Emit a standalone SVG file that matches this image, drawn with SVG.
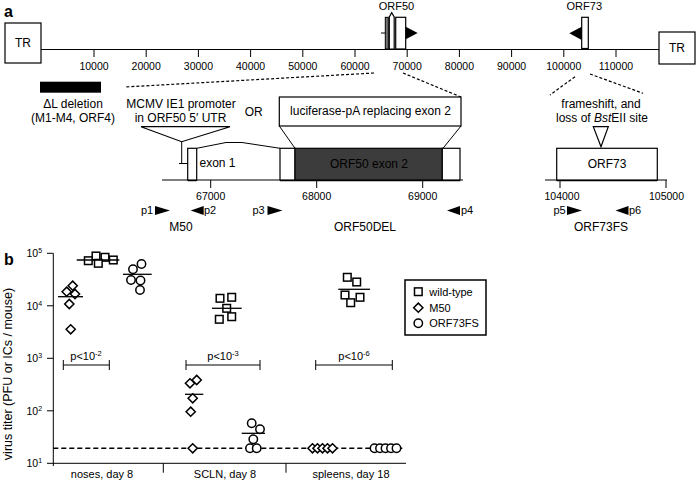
<svg xmlns="http://www.w3.org/2000/svg" width="696" height="482" viewBox="0 0 696 482">
<style>
text{font-family:"Liberation Sans",Arial,sans-serif;fill:#000}
.t12{font-size:12px}
.t11{font-size:11px}
.t10{font-size:10.5px}
.mid{text-anchor:middle}
.ln{stroke:#000;stroke-width:1;fill:none}
.box{stroke:#000;stroke-width:1.2;fill:#fff}
.dash{stroke:#000;stroke-width:1.2;fill:none;stroke-dasharray:3,2}
.thick{stroke:#000;stroke-width:2.5}
.pt{stroke:#000;stroke-width:1.5;fill:#fff}
.med{stroke:#000;stroke-width:1.3}
.bold{font-weight:bold;font-size:16px}
</style>
<defs>
<rect id="sq" x="-3.8" y="-3.8" width="7.6" height="7.6" class="pt"/>
<polygon id="dm" points="0,-4.6 4.6,0 0,4.6 -4.6,0" class="pt"/>
<circle id="ci" r="4.2" class="pt"/>
<polygon id="pr" points="0,0 15,4.5 0,9" fill="#000"/>
<polygon id="pl" points="13,0 0,4.5 13,9" fill="#000"/>
</defs>
<rect width="696" height="482" fill="#fff"/>

<!-- panel a -->
<text x="4" y="17" class="bold">a</text>

<g id="genome">
<line x1="41" y1="49.5" x2="659" y2="49.5" class="ln"/>
<g class="ln">
<line x1="94" y1="49.5" x2="94" y2="57"/>
<line x1="146.2" y1="49.5" x2="146.2" y2="57"/>
<line x1="198.4" y1="49.5" x2="198.4" y2="57"/>
<line x1="250.6" y1="49.5" x2="250.6" y2="57"/>
<line x1="302.8" y1="49.5" x2="302.8" y2="57"/>
<line x1="355" y1="49.5" x2="355" y2="57"/>
<line x1="407.2" y1="49.5" x2="407.2" y2="57"/>
<line x1="459.4" y1="49.5" x2="459.4" y2="57"/>
<line x1="511.6" y1="49.5" x2="511.6" y2="57"/>
<line x1="563.8" y1="49.5" x2="563.8" y2="57"/>
<line x1="616" y1="49.5" x2="616" y2="57"/>
</g>
<g class="t10 mid">
<text x="94" y="70">10000</text>
<text x="146.2" y="70">20000</text>
<text x="198.4" y="70">30000</text>
<text x="250.6" y="70">40000</text>
<text x="302.8" y="70">50000</text>
<text x="355" y="70">60000</text>
<text x="407.2" y="70">70000</text>
<text x="459.4" y="70">80000</text>
<text x="511.6" y="70">90000</text>
<text x="563.8" y="70">100000</text>
<text x="616" y="70">110000</text>
</g>
</g>

<g id="tr-left">
<rect x="5" y="23" width="36" height="40" class="box"/>
<text x="23" y="47" class="t12 mid">TR</text>
</g>
<g id="tr-right">
<rect x="659" y="32" width="36" height="32" class="box"/>
<text x="677" y="52" class="t12 mid">TR</text>
</g>

<g id="orf50-top">
<text x="396.5" y="10" class="t11 mid">ORF50</text>
<line x1="381" y1="33" x2="385.3" y2="33" class="ln"/>
<rect x="385.3" y="17.3" width="3" height="31.7" fill="#777" stroke="#000" stroke-width="1"/>
<polygon points="389.3,49 389.3,17 391.7,12.7 394.2,17 394.2,49" class="box"/>
<rect x="395.7" y="17.3" width="10" height="31.7" class="box"/>
<polygon points="405.7,26.7 417.7,33 405.7,39.3" fill="#000"/>
</g>

<g id="orf73-top">
<text x="584.3" y="9.5" class="t11 mid">ORF73</text>
<rect x="581.7" y="17.3" width="6.6" height="31.2" class="box"/>
<polygon points="581.7,26.7 569.3,33.3 581.7,40" fill="#000"/>
</g>

<g id="deltaL">
<rect x="40" y="81.7" width="61" height="11" fill="#000"/>
<text x="73" y="108" class="t12 mid">ΔL deletion</text>
<text x="73" y="121.7" class="t12 mid">(M1-M4, ORF4)</text>
</g>

<g id="connectors">
<line x1="374" y1="73" x2="125" y2="87" class="dash"/>
<line x1="403" y1="73" x2="461" y2="97" class="dash"/>
<line x1="575" y1="76.7" x2="550" y2="95" class="dash"/>
<line x1="590" y1="74" x2="643" y2="93.3" class="dash"/>
</g>

<g id="m50-insert">
<text x="181" y="108" class="t12 mid">MCMV IE1 promoter</text>
<text x="180.5" y="121.7" class="t12 mid">in ORF50 5′ UTR</text>
<polygon points="141,126.7 230,126.7 181.7,141.7" fill="none" stroke="#000" stroke-width="1.2"/>
<line x1="181.7" y1="141.7" x2="181.7" y2="163.5" class="ln"/>
<line x1="179" y1="163.5" x2="187.7" y2="163.5" class="ln"/>
</g>

<text x="253.7" y="116" class="t12 mid">OR</text>

<g id="luc-insert">
<rect x="279.3" y="97" width="181.7" height="29" class="box"/>
<text x="370.5" y="115" class="t12 mid">luciferase-pA replacing exon 2</text>
<line x1="279.3" y1="126" x2="295" y2="148.3" class="ln"/>
<line x1="461" y1="126" x2="443" y2="148.3" class="ln"/>
</g>

<g id="orf50-detail">
<line x1="162" y1="180" x2="463" y2="180" class="ln"/>
<line x1="187.7" y1="180" x2="196.7" y2="180" class="thick"/>
<line x1="280" y1="180" x2="460" y2="180" class="thick"/>
<rect x="187.7" y="148.3" width="9" height="31.7" class="box"/>
<text x="199.5" y="167" class="t12">exon 1</text>
<polyline points="196.7,148.3 226,142.5 242,142.5 280,148.3" class="ln"/>
<rect x="280" y="148.3" width="15" height="31.7" class="box"/>
<rect x="295" y="148.3" width="147.3" height="31.7" fill="#3c3c3c" stroke="#000" stroke-width="1.2"/>
<rect x="442.3" y="148.3" width="17.7" height="31.7" class="box"/>
<text x="369" y="168" class="t12 mid" fill="#111">ORF50 exon 2</text>
<line x1="210.7" y1="180" x2="210.7" y2="188" class="ln"/>
<line x1="316.7" y1="180" x2="316.7" y2="188" class="ln"/>
<line x1="422.7" y1="180" x2="422.7" y2="188" class="ln"/>
<g class="t10 mid">
<text x="210.7" y="200">67000</text>
<text x="316.7" y="200">68000</text>
<text x="422.7" y="200">69000</text>
</g>
<text x="141" y="214" class="t11">p1</text><use href="#pr" x="155" y="206"/>
<use href="#pl" x="190.7" y="206"/><text x="204" y="214" class="t11">p2</text>
<text x="252.5" y="214" class="t11">p3</text><use href="#pr" x="267.5" y="206"/>
<use href="#pl" x="447" y="206"/><text x="461" y="214" class="t11">p4</text>
<text x="181" y="231" class="t12 mid">M50</text>
<text x="365" y="231" class="t12 mid">ORF50DEL</text>
</g>

<g id="orf73-detail">
<text x="601" y="107.5" class="t12 mid">frameshift, and</text>
<text x="602" y="121.7" class="t12 mid">loss of <tspan font-style="italic">Bst</tspan>EII site</text>
<polygon points="593.3,126.7 608.3,126.7 601,146.7" fill="#fff" stroke="#000" stroke-width="1.2"/>
<line x1="545" y1="180" x2="667" y2="180" class="ln"/>
<line x1="556.7" y1="180" x2="657.3" y2="180" class="thick"/>
<rect x="556.7" y="148.3" width="100.6" height="31.7" class="box"/>
<text x="607" y="168" class="t12 mid">ORF73</text>
<line x1="560" y1="180" x2="560" y2="188" class="ln"/>
<line x1="666" y1="180" x2="666" y2="188" class="ln"/>
<text x="562" y="200" class="t10 mid">104000</text>
<text x="666.5" y="200" class="t10 mid">105000</text>
<text x="553.5" y="214" class="t11">p5</text><use href="#pr" x="567" y="206"/>
<use href="#pl" x="615.5" y="206"/><text x="629" y="214" class="t11">p6</text>
<text x="601" y="231" class="t12 mid">ORF73FS</text>
</g>

<!-- panel b -->
<text x="4" y="265" class="bold">b</text>

<g id="axes">
<line x1="53.3" y1="253.3" x2="53.3" y2="466" class="ln" stroke-width="1.8"/>
<line x1="53.3" y1="463.3" x2="406" y2="463.3" class="ln" stroke-width="1.8"/>
<line x1="163.3" y1="463.3" x2="163.3" y2="472.7" class="ln" stroke-width="1.8"/>
<line x1="286" y1="463.3" x2="286" y2="472.7" class="ln" stroke-width="1.8"/>
<g class="ln" stroke-width="1.8">
<line x1="47" y1="253.3" x2="53.3" y2="253.3"/>
<line x1="47" y1="305.8" x2="53.3" y2="305.8"/>
<line x1="47" y1="358.3" x2="53.3" y2="358.3"/>
<line x1="47" y1="410.8" x2="53.3" y2="410.8"/>
<line x1="47" y1="463.3" x2="53.3" y2="463.3"/>
</g>
<g class="t10">
<text x="26.5" y="257">10<tspan font-size="7" dy="-4">5</tspan></text>
<text x="26.5" y="309.5">10<tspan font-size="7" dy="-4">4</tspan></text>
<text x="26.5" y="362">10<tspan font-size="7" dy="-4">3</tspan></text>
<text x="26.5" y="414.5">10<tspan font-size="7" dy="-4">2</tspan></text>
<text x="26.5" y="467">10<tspan font-size="7" dy="-4">1</tspan></text>
</g>
<text transform="translate(12,374) rotate(-90)" class="mid" font-size="12.5">virus titer (PFU or ICs / mouse)</text>
<text x="102" y="478" class="t11 mid">noses, day 8</text>
<text x="225" y="478" class="t11 mid">SCLN, day 8</text>
<text x="351" y="478" class="t11 mid">spleens, day 18</text>
<line x1="53.3" y1="448.3" x2="405" y2="448.3" stroke="#000" stroke-width="1.5" stroke-dasharray="5,3"/>
</g>

<g id="brackets">
<g class="ln" stroke-width="1.5">
<line x1="63.3" y1="365" x2="109.3" y2="365"/><line x1="63.3" y1="360" x2="63.3" y2="370"/><line x1="109.3" y1="360" x2="109.3" y2="370"/>
<line x1="186" y1="365" x2="260" y2="365"/><line x1="186" y1="360" x2="186" y2="370"/><line x1="260" y1="360" x2="260" y2="370"/>
<line x1="315.7" y1="365" x2="392.3" y2="365"/><line x1="315.7" y1="360" x2="315.7" y2="370"/><line x1="392.3" y1="360" x2="392.3" y2="370"/>
</g>
<text x="86" y="360" class="t11 mid">p&lt;10<tspan font-size="7.5" dy="-4">-2</tspan></text>
<text x="223" y="360" class="t11 mid">p&lt;10<tspan font-size="7.5" dy="-4">-3</tspan></text>
<text x="354" y="360" class="t11 mid">p&lt;10<tspan font-size="7.5" dy="-4">-6</tspan></text>
</g>

<g id="noses">
<use href="#dm" x="72.7" y="285.7"/><use href="#dm" x="66.7" y="291.7"/><use href="#dm" x="75" y="294"/><use href="#dm" x="69.3" y="304"/><use href="#dm" x="70.7" y="329.3"/>
<line x1="58" y1="296.7" x2="83" y2="296.7" class="med"/>
<use href="#sq" x="96" y="256"/><use href="#sq" x="105" y="257.3"/><use href="#sq" x="113.3" y="260"/><use href="#sq" x="88.3" y="260.7"/><use href="#sq" x="98.3" y="263.3"/>
<line x1="76.7" y1="260" x2="119.3" y2="260" class="med"/>
<use href="#ci" x="141.5" y="264"/><use href="#ci" x="133" y="269.3"/><use href="#ci" x="131" y="280"/><use href="#ci" x="140.5" y="280.5"/><use href="#ci" x="140" y="290"/>
<line x1="123" y1="274.3" x2="151.7" y2="274.3" class="med"/>
</g>

<g id="scln">
<use href="#dm" x="190" y="383.3"/><use href="#dm" x="196.7" y="380"/><use href="#dm" x="192.7" y="398.3"/><use href="#dm" x="190.7" y="411.7"/><use href="#dm" x="192.7" y="448.3"/>
<line x1="185" y1="394.3" x2="203.3" y2="394.3" class="med"/>
<use href="#sq" x="220" y="298.3"/><use href="#sq" x="231.7" y="297.3"/><use href="#sq" x="226.7" y="308.3"/><use href="#sq" x="219.3" y="319.3"/><use href="#sq" x="231.7" y="316.7"/>
<line x1="212" y1="308.3" x2="241.7" y2="308.3" class="med"/>
<use href="#ci" x="251.7" y="423.3"/><use href="#ci" x="260" y="429.3"/><use href="#ci" x="253.3" y="439.3"/><use href="#ci" x="250" y="448.3"/><use href="#ci" x="256.7" y="448.3"/>
<line x1="241.7" y1="433.3" x2="265" y2="433.3" class="med"/>
</g>

<g id="spleens">
<use href="#dm" x="312.5" y="448.3"/><use href="#dm" x="317.5" y="448.3"/><use href="#dm" x="322.5" y="448.3"/><use href="#dm" x="327.5" y="448.3"/><use href="#dm" x="332.5" y="448.3"/>
<use href="#sq" x="347.3" y="277.3"/><use href="#sq" x="356.7" y="282"/><use href="#sq" x="345" y="295"/><use href="#sq" x="360" y="297.3"/><use href="#sq" x="350.7" y="302.7"/>
<line x1="338.3" y1="289.3" x2="370" y2="289.3" class="med"/>
<use href="#ci" x="374.5" y="448.3"/><use href="#ci" x="380" y="448.3"/><use href="#ci" x="385.5" y="448.3"/><use href="#ci" x="391" y="448.3"/><use href="#ci" x="396.5" y="448.3"/>
</g>

<g id="legend">
<rect x="405" y="280" width="81" height="55" fill="#fff" stroke="#000" stroke-width="1.5"/>
<use href="#sq" x="418.3" y="291.7"/>
<use href="#dm" x="418.3" y="307.7"/>
<use href="#ci" x="418.3" y="323.3"/>
<text x="429.3" y="295.5" class="t11">wild-type</text>
<text x="429.3" y="311.5" class="t11">M50</text>
<text x="429.3" y="327.3" class="t11">ORF73FS</text>
</g>
</svg>
